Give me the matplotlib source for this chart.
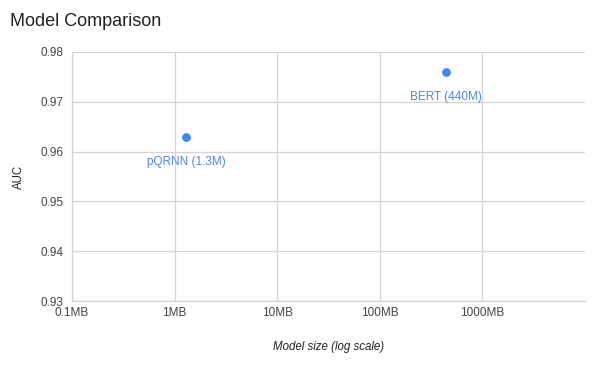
import matplotlib
matplotlib.use("Agg")
import matplotlib.pyplot as plt
from matplotlib.ticker import FixedLocator, NullLocator

# dane
models = ["pQRNN (1.3M)", "BERT (440M)"]
size_mb = [1.3, 440]
auc = [0.963, 0.976]

x_ticks = [0.1, 1, 10, 100, 1000]
x_tick_labels = ["0.1MB", "1MB", "10MB", "100MB", "1000MB"]
y_ticks = [0.93, 0.94, 0.95, 0.96, 0.97, 0.98]

blue = "#4285f4"
grid_col = "#d4d4d4"

plt.rcParams["font.family"] = ["Liberation Sans", "DejaVu Sans"]

fig = plt.figure(figsize=(5.99, 3.66), dpi=100)
ax = fig.add_axes([72 / 599, 1 - 301 / 366, 513 / 599, 249 / 366])

ax.scatter(size_mb, auc, s=40, color=blue, zorder=3, linewidths=0)
for name, x, y in zip(models, size_mb, auc):
    ax.annotate(name, (x, y), xytext=(0, -14), textcoords="offset points",
                ha="center", va="top", fontsize=8.5, color="#4f86e8")

ax.set_xscale("log")
ax.set_xlim(0.1, 10000)
ax.set_ylim(0.93, 0.98)
ax.xaxis.set_major_locator(FixedLocator(x_ticks))
ax.xaxis.set_minor_locator(NullLocator())
ax.set_xticklabels(x_tick_labels)
ax.set_yticks(y_ticks)
ax.set_yticklabels([f"{v:.2f}" for v in y_ticks])

ax.grid(True, color=grid_col, linewidth=0.9)
ax.set_axisbelow(True)
for side in ["top", "right"]:
    ax.spines[side].set_visible(False)
for side in ["left", "bottom"]:
    ax.spines[side].set_color(grid_col)
    ax.spines[side].set_linewidth(0.9)
ax.tick_params(length=0, labelsize=8.5, labelcolor="#444444")
ax.tick_params(axis="y", pad=6)
ax.tick_params(axis="x", pad=4)

ax.set_ylabel("AUC", fontsize=8.3, color="#222222", labelpad=11)
ax.set_xlabel("Model size (log scale)", fontsize=8.3, color="#222222",
              style="italic", labelpad=16)

fig.text(10 / 599, 1 - 21 / 366, "Model Comparison", fontsize=13,
         color="#222222", va="center", ha="left")

fig.savefig("out.png", dpi=100)
